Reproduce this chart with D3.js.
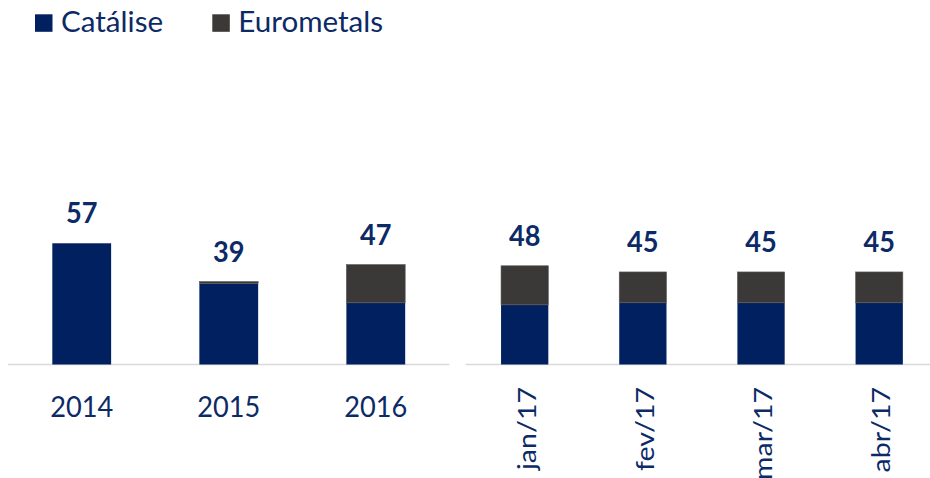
<!DOCTYPE html>
<html><head><meta charset="utf-8">
<script src="https://cdn.jsdelivr.net/npm/d3@7/dist/d3.min.js"></script>
<style>body{margin:0;background:#fff}svg{display:block}text{font-family:Lato,"Open Sans",sans-serif}</style>
</head><body><svg id="c" width="930" height="478"></svg>
<script>
// Data
const yearCats = ["2014","2015","2016"];
const yearCatalise = [57,38,29];
const yearEurometals = [0,1,18];
const yearTotals = [57,39,47];
const monthCats = ["jan/17","fev/17","mar/17","abr/17"];
const monthCatalise = [29,30,30,30];
const monthEurometals = [19,15,15,15];
const monthTotals = [48,45,45,45];
const seriesNames = ["Catálise","Eurometals"];
const colors = ["#002060","#3a3937"];
const textColor = "#0b2a66";

const svg = d3.select("#c");
const base = 364.5;

// legend
const leg = svg.append("g");
const legX = [35, 212.3];
seriesNames.forEach((n,i)=>{
  leg.append("rect").attr("x",legX[i]).attr("y",14.3).attr("width",17.5).attr("height",17.5).attr("fill",colors[i]);
  leg.append("text").attr("transform",`translate(${legX[i]+26},32.3) scale(1.02,1)`).attr("font-size",29).attr("fill",textColor).text(n);
});

function drawPanel(cats, s1, s2, totals, range, yMaxPx, rotate){
  const x = d3.scaleBand().domain(cats).range(range).paddingInner(0.6).paddingOuter(0.3);
  const y = d3.scaleLinear().domain([0,60]).range([base, base - yMaxPx]);
  const g = svg.append("g");
  g.append("line").attr("x1",range[0]).attr("x2",Math.min(range[1],930)).attr("y1",base).attr("y2",base)
    .attr("stroke","#d9d9d9").attr("stroke-width",1.6);
  cats.forEach((c,i)=>{
    const bx = x(c), bw = x.bandwidth();
    g.append("rect").attr("x",bx).attr("width",bw).attr("y",y(s1[i])).attr("height",base - y(s1[i])).attr("fill",colors[0]);
    if (s2[i] > 0) {
      g.append("rect").attr("x",bx).attr("width",bw).attr("y",y(s1[i]+s2[i])).attr("height",y(s1[i]) - y(s1[i]+s2[i]))
        .attr("fill",colors[1]).attr("stroke","#5a5a5a").attr("stroke-width",0.6);
    }
    const cx = bx + bw/2;
    g.append("text").attr("transform",`translate(${cx},${y(totals[i]) - 20}) scale(0.97,1)`)
      .attr("text-anchor","middle").attr("font-size",28).attr("font-weight","bold").attr("fill",textColor).text(totals[i]);
    if (!rotate) {
      g.append("text").attr("transform",`translate(${cx},416.7) scale(0.97,1)`)
        .attr("text-anchor","middle").attr("font-size",28).attr("fill",textColor).text(c);
    } else {
      g.append("text").attr("transform",`translate(${cx+11},387) rotate(-90) scale(1.02,0.88)`)
        .attr("text-anchor","end").attr("font-size",28).attr("fill",textColor).text(c);
    }
  });
}
drawPanel(yearCats, yearCatalise, yearEurometals, yearTotals, [8.2, 449.3], 127.6, false);
drawPanel(monthCats, monthCatalise, monthEurometals, monthTotals, [465.6, 938.3], 123.4, true);
</script></body></html>
